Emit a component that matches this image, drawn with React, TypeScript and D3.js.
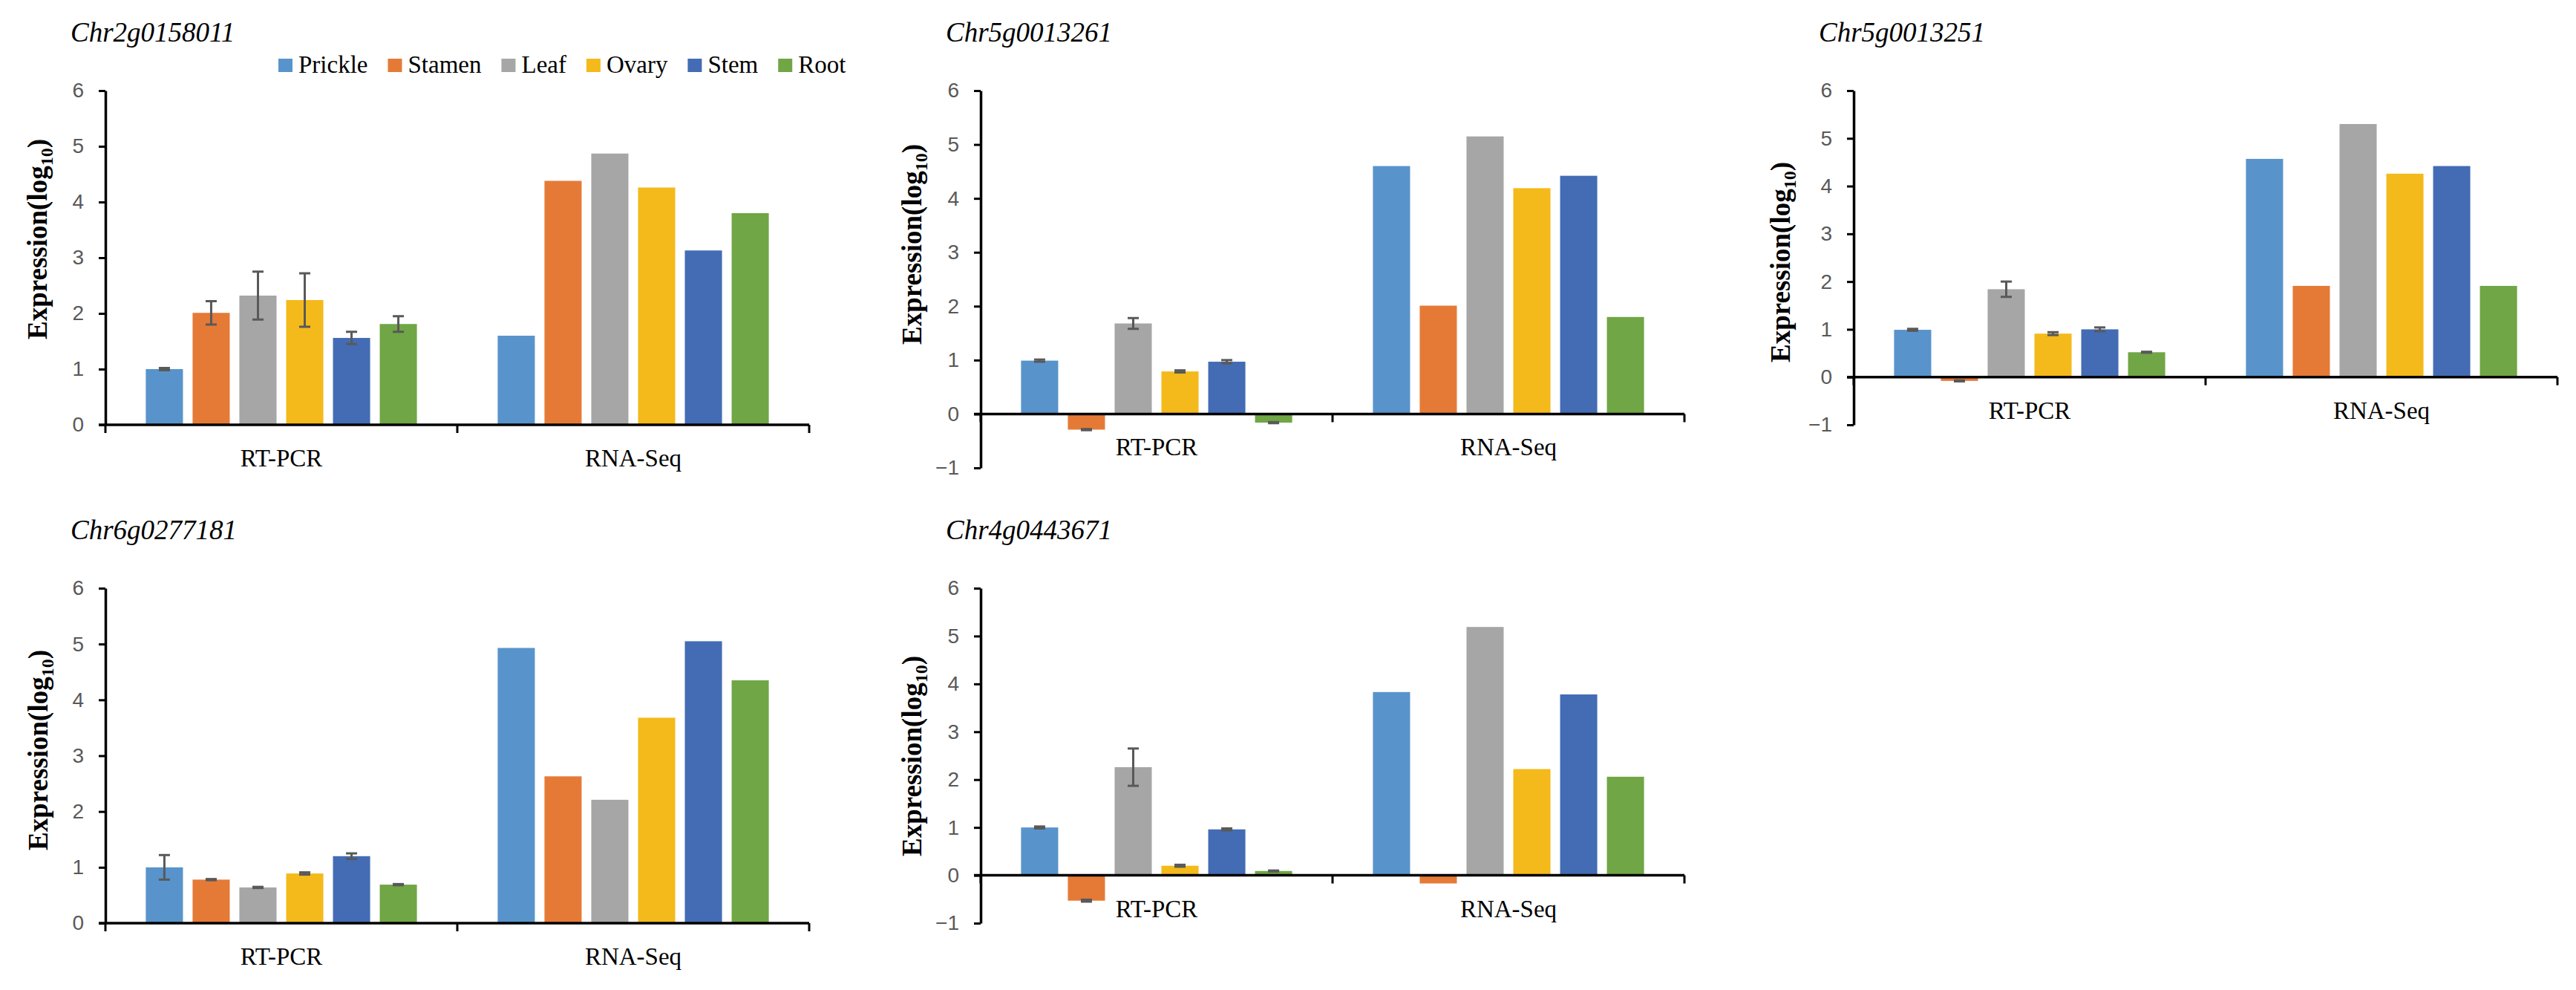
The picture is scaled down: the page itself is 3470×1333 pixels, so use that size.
import React, { useEffect, useRef } from 'react';
import * as d3 from 'd3';

const tissues = ['Prickle', 'Stamen', 'Leaf', 'Ovary', 'Stem', 'Root'];
const tissueColors = ['#5894CB', '#E57A37', '#A6A6A6', '#F4BA1B', '#436CB4', '#70A645'];
const methods = ['RT-PCR', 'RNA-Seq'];
const genes = ['Chr2g0158011', 'Chr5g0013261', 'Chr5g0013251', 'Chr6g0277181', 'Chr4g0443671'];

// RT-PCR means and error bars, one row per gene
const rtpcrValues = [
  [1.0, 2.01, 2.32, 2.24, 1.56, 1.81],
  [0.99, -0.29, 1.68, 0.79, 0.97, -0.16],
  [0.99, -0.08, 1.84, 0.91, 1.0, 0.52],
  [1.0, 0.78, 0.64, 0.89, 1.2, 0.69],
  [1.0, -0.53, 2.26, 0.2, 0.96, 0.09],
];
const rtpcrErrors = [
  [0.02, 0.21, 0.43, 0.48, 0.11, 0.14],
  [0.02, 0.01, 0.1, 0.02, 0.03, 0.01],
  [0.02, 0.01, 0.16, 0.03, 0.04, 0.01],
  [0.22, 0.01, 0.01, 0.02, 0.05, 0.01],
  [0.02, 0.02, 0.39, 0.02, 0.02, 0.01],
];
const rnaSeqValues = [
  [1.6, 4.38, 4.87, 4.26, 3.13, 3.8],
  [4.6, 2.01, 5.15, 4.19, 4.42, 1.8],
  [4.57, 1.91, 5.3, 4.26, 4.42, 1.91],
  [4.93, 2.63, 2.21, 3.68, 5.05, 4.35],
  [3.83, -0.17, 5.19, 2.22, 3.78, 2.06],
];
const yMins = [0, -1, -1, 0, -1];
const yMax = 6;

// panel layout (pixels)
const panels = [
  { x: 142, top: 122, bottom: 572, labelX: -79, labelY: 322 },
  { x: 1321, top: 122, bottom: 630, labelX: -80, labelY: 329 },
  { x: 2497, top: 122, bottom: 572, labelX: -86, labelY: 353 },
  { x: 142, top: 792, bottom: 1243, labelX: -78, labelY: 1010 },
  { x: 1321, top: 792, bottom: 1243, labelX: -80, labelY: 1018 },
];
const axisLen = 948;
const SERIF = '"Liberation Serif", "Times New Roman", serif';
const SANS = '"Liberation Sans", Arial, sans-serif';

export default function App() {
  const svgRef = useRef<SVGSVGElement>(null);

  useEffect(() => {
    document.body.style.margin = '0';
    if (!svgRef.current) return;
    const svg = d3.select(svgRef.current);
    svg.selectAll('*').remove();

    panels.forEach((p, i) => {
      const g = svg.append('g');
      const y = d3.scaleLinear().domain([yMins[i], yMax]).range([p.bottom, p.top]);
      const x0 = d3.scaleBand().domain(methods).range([p.x, p.x + axisLen]).padding(0);
      const x1 = d3.scaleBand()
        .domain(tissues)
        .range([0, x0.bandwidth()])
        .paddingInner(0.206)
        .paddingOuter(0.863);
      const y0 = y(0);

      const series = [rtpcrValues[i], rnaSeqValues[i]];
      methods.forEach((m, mi) => {
        const vals = series[mi];
        g.append('g')
          .selectAll('rect')
          .data(vals)
          .join('rect')
          .attr('x', (_, k) => x0(m)! + x1(tissues[k])!)
          .attr('width', x1.bandwidth())
          .attr('y', d => Math.min(y(d), y0))
          .attr('height', d => Math.abs(y(d) - y0))
          .attr('fill', (_, k) => tissueColors[k]);
      });

      // error bars on RT-PCR
      const eg = g.append('g').attr('stroke', '#595959').attr('stroke-width', 3);
      rtpcrValues[i].forEach((v, k) => {
        const e = rtpcrErrors[i][k];
        const cx = x0('RT-PCR')! + x1(tissues[k])! + x1.bandwidth() / 2;
        const yt = y(v + e);
        const yb = y(v - e);
        eg.append('line').attr('x1', cx).attr('x2', cx).attr('y1', yt).attr('y2', yb);
        eg.append('line').attr('x1', cx - 7.5).attr('x2', cx + 7.5).attr('y1', yt).attr('y2', yt);
        eg.append('line').attr('x1', cx - 7.5).attr('x2', cx + 7.5).attr('y1', yb).attr('y2', yb);
      });

      // y axis
      const yAxis = d3.axisLeft(y)
        .tickValues(d3.range(yMins[i], yMax + 1))
        .tickSize(9)
        .tickSizeOuter(0)
        .tickPadding(20)
        .tickFormat(d3.format('d'));
      const ya = g.append('g').attr('transform', `translate(${p.x},0)`).call(yAxis);
      ya.select('.domain').attr('stroke', '#000').attr('stroke-width', 3.5);
      ya.selectAll('.tick line').attr('stroke', '#000').attr('stroke-width', 3);
      ya.selectAll('.tick text')
        .attr('fill', '#595959')
        .style('font-family', SANS)
        .style('font-size', '28px');

      // category axis at zero
      g.append('line')
        .attr('x1', p.x - 9)
        .attr('x2', p.x + axisLen)
        .attr('y1', y0)
        .attr('y2', y0)
        .attr('stroke', '#000')
        .attr('stroke-width', 3.5);
      const bounds = [x0.range()[0], ...methods.map(m => x0(m)! + x0.bandwidth())];
      g.append('g')
        .selectAll('line')
        .data(bounds)
        .join('line')
        .attr('x1', d => d)
        .attr('x2', d => d)
        .attr('y1', y0)
        .attr('y2', y0 + 11)
        .attr('stroke', '#000')
        .attr('stroke-width', 3);
      g.append('g')
        .selectAll('text')
        .data(methods)
        .join('text')
        .attr('x', d => x0(d)! + x0.bandwidth() / 2)
        .attr('y', y0 + 56)
        .attr('text-anchor', 'middle')
        .style('font-family', SERIF)
        .style('font-size', '33px')
        .attr('fill', '#000')
        .text(d => d);

      // title
      g.append('text')
        .attr('x', p.x - 47)
        .attr('y', p.top - 66)
        .style('font-family', SERIF)
        .style('font-style', 'italic')
        .style('font-size', '37px')
        .attr('fill', '#000')
        .text(genes[i]);

      // y axis title
      const yt = g.append('text')
        .attr('transform', `translate(${p.x + p.labelX},${p.labelY}) rotate(-90)`)
        .attr('text-anchor', 'middle')
        .style('font-family', SERIF)
        .style('font-weight', 'bold')
        .style('font-size', '37px')
        .attr('fill', '#000');
      yt.append('tspan').text('Expression(log');
      yt.append('tspan').attr('dy', 8).style('font-size', '24px').text('10');
      yt.append('tspan').attr('dy', -8).text(')');

      // legend in the first panel
      if (i === 0) {
        const lg = g.append('g');
        let lx = 375;
        tissues.forEach((t, k) => {
          lg.append('rect')
            .attr('x', lx)
            .attr('y', 79)
            .attr('width', 19)
            .attr('height', 18)
            .attr('fill', tissueColors[k]);
          const txt = lg.append('text')
            .attr('x', lx + 27)
            .attr('y', 98)
            .style('font-family', SERIF)
            .style('font-size', '33px')
            .attr('fill', '#000')
            .text(t);
          const w = (txt.node() as SVGTextElement).getComputedTextLength();
          lx += 27 + w + 27;
        });
      }
    });
  }, []);

  return (
    <svg
      ref={svgRef}
      width={3470}
      height={1333}
      style={{ display: 'block', background: '#fff' }}
    />
  );
}
